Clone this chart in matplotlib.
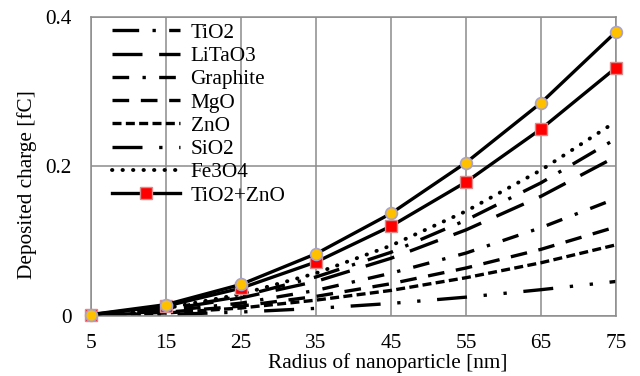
import matplotlib.pyplot as plt

# Data
radius = [5, 15, 25, 35, 45, 55, 65, 75]

top_series = [0.0017, 0.015, 0.042, 0.083, 0.137, 0.205, 0.285, 0.380]
tio2_zno = [0.0015, 0.013, 0.037, 0.072, 0.120, 0.179, 0.250, 0.332]
fe3o4 = [0.0012, 0.010, 0.029, 0.057, 0.094, 0.140, 0.195, 0.260]
tio2 = [0.0011, 0.0095, 0.026, 0.052, 0.085, 0.128, 0.178, 0.237]
litao3 = [0.0009, 0.0085, 0.024, 0.046, 0.077, 0.115, 0.160, 0.213]
graphite = [0.0007, 0.0063, 0.017, 0.034, 0.057, 0.084, 0.118, 0.157]
mgo = [0.0005, 0.0048, 0.013, 0.026, 0.043, 0.064, 0.089, 0.119]
zno = [0.0004, 0.0038, 0.0105, 0.021, 0.034, 0.051, 0.071, 0.095]
sio2 = [0.0002, 0.0018, 0.0051, 0.010, 0.0166, 0.025, 0.035, 0.046]

y_ticks = [0, 0.2, 0.4]
y_tick_labels = ["0", "0.2", "0.4"]

plt.rcParams["font.family"] = ["Liberation Serif", "DejaVu Serif"]
plt.rcParams["font.size"] = 15.3

fig = plt.figure(figsize=(6.4, 3.76), dpi=100)
ax = fig.add_axes([0.142, 0.160, 0.8205, 0.795])

LW = 2.4

ax.plot(radius, tio2, color="black", lw=LW, ls=(0, (8, 4, 1, 4)), label="TiO2")
ax.plot(radius, litao3, color="black", lw=LW, ls=(0, (9, 5)), label="LiTaO3")
ax.plot(radius, graphite, color="black", lw=LW, ls=(0, (5, 4, 1, 4)), label="Graphite")
ax.plot(radius, mgo, color="black", lw=LW, ls=(0, (5, 3.5)), label="MgO")
ax.plot(radius, zno, color="black", lw=LW, ls=(0, (2.7, 1.3)), label="ZnO")
ax.plot(radius, sio2, color="black", lw=LW, ls=(0, (9, 5, 1, 5, 1, 5)), label="SiO2")
ax.plot(radius, fe3o4, color="black", lw=2.8, ls=(0, (0.1, 2.6)),
        dash_capstyle="round", label="Fe3O4")
ax.plot(radius, tio2_zno, color="black", lw=LW, marker="s", markersize=8,
        markerfacecolor="#FF0000", markeredgecolor="#D98C8C", markeredgewidth=1,
        clip_on=False, zorder=5, label="TiO2+ZnO")
ax.plot(radius, top_series, color="black", lw=LW, marker="o", markersize=8.5,
        markerfacecolor="#FFC000", markeredgecolor="#A9A3CC", markeredgewidth=1.2,
        clip_on=False, zorder=6, label="_nolegend_")

ax.set_xlim(5, 75)
ax.set_ylim(0, 0.4)
ax.set_xticks(radius)
ax.set_yticks(y_ticks)
ax.set_yticklabels(y_tick_labels)
ax.tick_params(length=0)
ax.tick_params(axis="x", pad=13)
ax.tick_params(axis="y", pad=14)

ax.grid(True, color="#8c8c8c", lw=1.1)
ax.set_axisbelow(True)
for s in ax.spines.values():
    s.set_color("#8c8c8c")
    s.set_linewidth(1.1)

ax.set_xlabel("Radius of nanoparticle [nm]", va="center")
ax.xaxis.set_label_coords(0.566, -0.157)
ax.set_ylabel("Deposited charge [fC]", va="center")
ax.yaxis.set_label_coords(-0.122, 0.438)

ax.legend(loc="upper left", bbox_to_anchor=(0.04, 0.98), frameon=False,
          handlelength=3.2, handletextpad=0.5, labelspacing=0.16,
          borderpad=0.0, borderaxespad=0.0)

fig.savefig("out.png", dpi=100)
